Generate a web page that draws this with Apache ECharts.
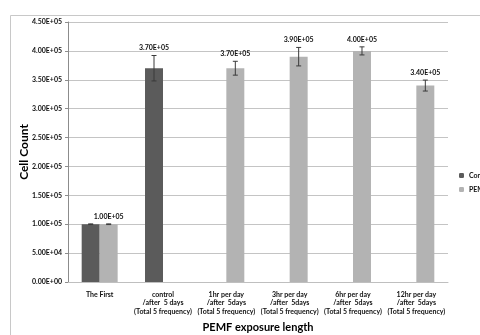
<!DOCTYPE html>
<html><head><meta charset="utf-8">
<script src="https://cdn.jsdelivr.net/npm/echarts@6/dist/echarts.min.js"></script>
<style>html,body{margin:0;padding:0;background:#fff}#c{width:480px;height:335px}</style>
</head><body><div id="c"></div>
<script>
var categories = ['The First', 'control\n/after  5 days\n(Total 5 frequency)', '1hr per day\n/after  5days\n(Total 5 frequency)', '3hr per day\n/after  5days\n(Total 5 frequency)', '6hr per day\n/after  5days\n(Total 5 frequency)', '12hr per day\n/after  5days\n(Total 5 frequency)'];
var seriesNames = ['Control', 'PEMF'];
var controlValues = [100000, 370000, null, null, null, null];
var pemfValues = [100000, null, 370000, 390000, 400000, 340000];
var controlErrors = [600, 22000, null, null, null, null];
var pemfErrors = [600, null, 12000, 16000, 7000, 9500];
var controlLabels = [false, true, false, false, false, false];
var pemfLabels = [true, false, true, true, true, true];

var FONT = 'Lato';
var BAR_RATIO = 0.284;

function sci(v) {
  if (v === 0) return '0.00E+00';
  var e = Math.floor(Math.log10(Math.abs(v)) + 1e-9);
  var m = v / Math.pow(10, e);
  return m.toFixed(2) + 'E' + (e < 0 ? '-' : '+') + (Math.abs(e) < 10 ? '0' : '') + Math.abs(e);
}

function errData(vals, errs, labels) {
  var out = [];
  for (var i = 0; i < vals.length; i++) {
    if (vals[i] != null) out.push([i, vals[i], errs[i], labels[i] ? 1 : 0]);
  }
  return out;
}

function makeErr(dir) {
  return function (params, api) {
    var cat = api.value(0), val = api.value(1), err = api.value(2), lab = api.value(3);
    var band = api.size([1, 0])[0];
    var bw = band * BAR_RATIO;
    var c = api.coord([cat, val]);
    var x = c[0] + dir * bw / 2;
    var top = api.coord([cat, val + err])[1];
    var bot = api.coord([cat, val - err])[1];
    var st = { stroke: '#3a3a3a', lineWidth: 1 };
    var children = [
      { type: 'line', shape: { x1: x, y1: top, x2: x, y2: bot }, style: st },
      { type: 'line', shape: { x1: x - 2.5, y1: top, x2: x + 2.5, y2: top }, style: st },
      { type: 'line', shape: { x1: x - 2.5, y1: bot, x2: x + 2.5, y2: bot }, style: st }
    ];
    if (lab) {
      children.push({ type: 'text', style: { x: x, y: top - 4, text: sci(val), textAlign: 'center', textVerticalAlign: 'bottom', font: 'bold 7px ' + FONT, fill: '#111' } });
    }
    return { type: 'group', children: children };
  };
}

var chart = echarts.init(document.getElementById('c'), null, { renderer: 'canvas' });
chart.setOption({
  animation: false,
  backgroundColor: '#fff',
  graphic: [{ type: 'rect', shape: { x: 10.5, y: 15.5, width: 500, height: 400 }, style: { fill: 'none', stroke: '#c8c8c8', lineWidth: 1 }, z: -10 }],
  legend: {
    orient: 'vertical', left: 454, top: 167, itemWidth: 5, itemHeight: 5, itemGap: 7,
    data: seriesNames,
    textStyle: { fontFamily: FONT, fontWeight: 'bold', fontSize: 7, color: '#111' }
  },
  grid: { left: 68, right: 32, top: 22, bottom: 53, outerBoundsMode: 'none' },
  xAxis: {
    type: 'category', data: categories,
    name: 'PEMF exposure length', nameLocation: 'middle', nameGap: 40, nameMoveOverlap: false,
    nameTextStyle: { fontFamily: FONT, fontWeight: 'bold', fontSize: 11, color: '#000' },
    axisLine: { lineStyle: { color: '#bfbfbf' } },
    axisTick: { show: false },
    axisLabel: { interval: 0, fontFamily: FONT, fontWeight: 'bold', fontSize: 7, color: '#111', lineHeight: 8.5, margin: 8 }
  },
  yAxis: {
    type: 'value', min: 0, max: 450000, interval: 50000,
    name: 'Cell Count', nameLocation: 'middle', nameGap: 38, nameMoveOverlap: false,
    nameTextStyle: { fontFamily: FONT, fontWeight: 'bold', fontSize: 12, color: '#000' },
    axisLine: { show: true, lineStyle: { color: '#8c8c8c' } },
    axisTick: { show: true, length: 3, lineStyle: { color: '#8c8c8c' } },
    splitLine: { lineStyle: { color: '#c4c4c4' } },
    axisLabel: { fontFamily: FONT, fontWeight: 'bold', fontSize: 7, color: '#111', margin: 6, formatter: sci }
  },
  series: [
    { name: 'Control', type: 'bar', data: controlValues, barWidth: (BAR_RATIO * 100) + '%', barGap: '0%', itemStyle: { color: '#5b5b5b' } },
    { name: 'PEMF', type: 'bar', data: pemfValues, barWidth: (BAR_RATIO * 100) + '%', barGap: '0%', itemStyle: { color: '#b3b3b3' } },
    { type: 'custom', renderItem: makeErr(-1), data: errData(controlValues, controlErrors, controlLabels), z: 5, encode: { x: 0, y: 1 } },
    { type: 'custom', renderItem: makeErr(1), data: errData(pemfValues, pemfErrors, pemfLabels), z: 5, encode: { x: 0, y: 1 } }
  ]
});
</script></body></html>
